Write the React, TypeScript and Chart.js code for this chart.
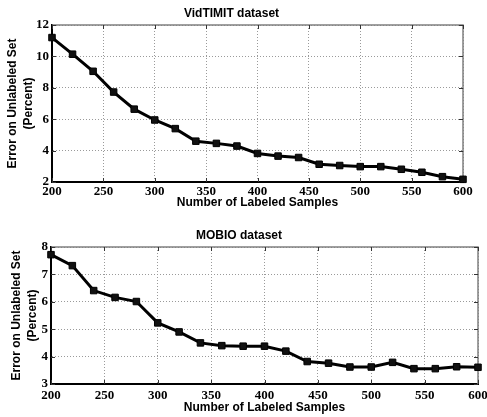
import React, { useEffect, useRef } from "react";
import { Chart, registerables } from "chart.js";

Chart.register(...registerables);

// ---- data ----
const labeledSamples = [200, 220, 240, 260, 280, 300, 320, 340, 360, 380, 400, 420, 440, 460, 480, 500, 520, 540, 560, 580, 600];
const vidtimitError = [11.2, 10.14, 9.05, 7.73, 6.64, 5.95, 5.4, 4.6, 4.46, 4.29, 3.82, 3.65, 3.56, 3.13, 3.05, 2.98, 2.98, 2.81, 2.62, 2.34, 2.17];
const mobioError = [7.72, 7.32, 6.41, 6.16, 6.01, 5.23, 4.9, 4.5, 4.4, 4.38, 4.38, 4.2, 3.82, 3.76, 3.62, 3.62, 3.79, 3.56, 3.56, 3.63, 3.61];
const vidtimitTitle = "VidTIMIT dataset";
const mobioTitle = "MOBIO dataset";
const xAxisTitle = "Number of Labeled Samples";
const yAxisTitle = ["Error on Unlabeled Set", "(Percent)"];

const SANS = "'Liberation Sans', Arial, Helvetica, sans-serif";
const SERIF = "'Liberation Serif', 'Times New Roman', serif";

const framePlugin = {
  id: "frame",
  beforeDatasetsDraw(chart: any) {
    const { ctx, chartArea, scales } = chart;
    const { left, right, top, bottom } = chartArea;
    ctx.save();
    ctx.strokeStyle = "#808080";
    ctx.lineWidth = 1.5;
    ctx.beginPath();
    ctx.moveTo(left, top);
    ctx.lineTo(right, top);
    ctx.lineTo(right, bottom);
    ctx.stroke();
    ctx.strokeStyle = "#333";
    ctx.lineWidth = 1;
    ctx.beginPath();
    const tl = 4;
    scales.x.ticks.forEach((t: any) => {
      const px = Math.round(scales.x.getPixelForValue(t.value)) + 0.5;
      ctx.moveTo(px, bottom);
      ctx.lineTo(px, bottom - tl);
      ctx.moveTo(px, top);
      ctx.lineTo(px, top + tl);
    });
    scales.y.ticks.forEach((t: any) => {
      const py = Math.round(scales.y.getPixelForValue(t.value)) + 0.5;
      ctx.moveTo(left, py);
      ctx.lineTo(left + tl, py);
      ctx.moveTo(right, py);
      ctx.lineTo(right - tl, py);
    });
    ctx.stroke();
    ctx.restore();
  },
};

interface PanelProps {
  title: string;
  values: number[];
  yMin: number;
  yMax: number;
  yStep: number;
  width: number;
  height: number;
  yAxisWidth: number;
  xAxisHeight: number;
  padRight: number;
  titlePadTop: number;
  titlePadBottom: number;
  xTickPad: number;
  xTitlePadBottom: number;
  yTitlePadTop: number;
  top: number;
}

const GRID = { color: "#9a9a9a", lineWidth: 1, drawTicks: false };

function Panel(p: PanelProps) {
  const ref = useRef<HTMLCanvasElement | null>(null);
  useEffect(() => {
    if (!ref.current) return;
    const chart = new Chart(ref.current, {
      type: "line",
      data: {
        datasets: [
          {
            data: labeledSamples.map((x, i) => ({ x, y: p.values[i] })),
            borderColor: "#000",
            backgroundColor: "#000",
            borderWidth: 3,
            pointStyle: "rect",
            pointRadius: 4.6,
            pointBorderWidth: 1,
            pointBorderColor: "#000",
            pointBackgroundColor: "#111",
            tension: 0,
            clip: false as any,
          },
        ],
      },
      options: {
        animation: false,
        responsive: false,
        devicePixelRatio: 1,
        layout: { padding: { left: 0, right: p.padRight, top: 0, bottom: 0 } },
        plugins: {
          legend: { display: false },
          tooltip: { enabled: false },
          title: {
            display: true,
            text: p.title,
            color: "#000",
            font: { family: SANS, size: 12, weight: "bold", lineHeight: 1.2 },
            padding: { top: p.titlePadTop, bottom: p.titlePadBottom },
          },
        },
        scales: {
          x: {
            type: "linear",
            min: 200,
            max: 600,
            afterFit: (s: any) => {
              s.height = p.xAxisHeight;
              s.paddingLeft = 0;
              s.paddingRight = 0;
            },
            ticks: {
              stepSize: 50,
              color: "#000",
              padding: p.xTickPad,
              maxRotation: 0,
              autoSkip: false,
              font: { family: SERIF, size: 13, weight: "bold", lineHeight: 1.2 },
            },
            grid: GRID,
            border: { display: true, color: "#000", width: 2, dash: [1, 2] },
            title: {
              display: true,
              text: xAxisTitle,
              color: "#000",
              font: { family: SANS, size: 12, weight: "bold", lineHeight: 1.2 },
              padding: { top: 0, bottom: p.xTitlePadBottom },
            },
          },
          y: {
            type: "linear",
            min: p.yMin,
            max: p.yMax,
            afterFit: (s: any) => {
              s.width = p.yAxisWidth;
              s.paddingTop = 0;
              s.paddingBottom = 0;
            },
            ticks: {
              stepSize: p.yStep,
              color: "#000",
              padding: 3,
              font: { family: SERIF, size: 13, weight: "bold", lineHeight: 1.2 },
            },
            grid: GRID,
            border: { display: true, color: "#000", width: 2, dash: [1, 2] },
            title: {
              display: true,
              text: yAxisTitle,
              color: "#000",
              font: { family: SANS, size: 12, weight: "bold", lineHeight: 1.375 },
              padding: { top: p.yTitlePadTop, bottom: 0 },
            },
          },
        },
      },
      plugins: [framePlugin],
    });
    return () => chart.destroy();
  }, []);
  return (
    <canvas
      ref={ref}
      width={p.width}
      height={p.height}
      style={{ position: "absolute", left: 0, top: p.top, width: p.width, height: p.height }}
    />
  );
}

export default function App() {
  return (
    <div style={{ position: "absolute", left: 0, top: 0, width: 487, height: 417, background: "#fff", overflow: "hidden" }}>
      <Panel
        title={vidtimitTitle}
        values={vidtimitError}
        yMin={2}
        yMax={12}
        yStep={2}
        width={487}
        height={210}
        top={0}
        yAxisWidth={52}
        xAxisHeight={28}
        padRight={24}
        titlePadTop={6}
        titlePadBottom={4.6}
        xTickPad={2}
        xTitlePadBottom={0}
        yTitlePadTop={4}
      />
      <Panel
        title={mobioTitle}
        values={mobioError}
        yMin={3}
        yMax={8}
        yStep={1}
        width={487}
        height={207}
        top={210}
        yAxisWidth={51}
        xAxisHeight={33}
        padRight={9}
        titlePadTop={18}
        titlePadBottom={4.6}
        xTickPad={4}
        xTitlePadBottom={2}
        yTitlePadTop={8}
      />
    </div>
  );
}
